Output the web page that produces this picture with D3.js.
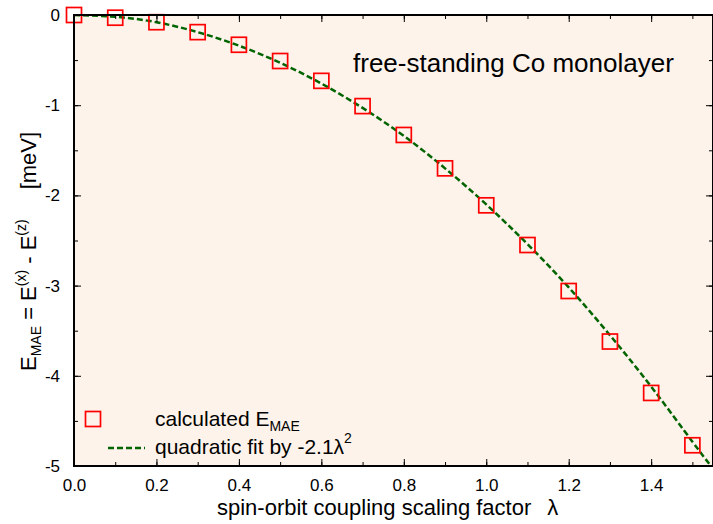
<!DOCTYPE html>
<html>
<head>
<meta charset="utf-8">
<script src="https://cdn.jsdelivr.net/npm/d3@7"></script>
<style>
  body { margin: 0; background: #fff; }
  svg { font-family: "Liberation Sans", Arial, sans-serif; }
</style>
</head>
<body>
<div id="chart"></div>
<script>
// data
var lambdaVals = [0.0, 0.1, 0.2, 0.3, 0.4, 0.5, 0.6, 0.7, 0.8, 0.9, 1.0, 1.1, 1.2, 1.3, 1.4, 1.5];
var maeVals = [0.0, -0.03, -0.08, -0.19, -0.33, -0.51, -0.73, -1.01, -1.33, -1.70, -2.11, -2.55, -3.06, -3.62, -4.19, -4.77];
var fitLambda = [0.0, 0.1, 0.2, 0.3, 0.4, 0.5, 0.6, 0.7, 0.8, 0.9, 1.0, 1.1, 1.2, 1.3, 1.4, 1.5, 1.545];
var fitVals = [0.0, -0.02, -0.08, -0.19, -0.34, -0.53, -0.76, -1.03, -1.34, -1.70, -2.10, -2.54, -3.02, -3.55, -4.12, -4.73, -5.0];
var xTicks = [0.0, 0.2, 0.4, 0.6, 0.8, 1.0, 1.2, 1.4];
var yTicks = [0, -1, -2, -3, -4, -5];

var svgWidth = 713, svgHeight = 524;
var margin = { top: 15, right: 0, bottom: 58, left: 74 };
var width = svgWidth - margin.left - margin.right;
var height = svgHeight - margin.top - margin.bottom;

var svg = d3.select("#chart").append("svg")
  .attr("width", svgWidth)
  .attr("height", svgHeight);

var chartGroup = svg.append("g")
  .attr("transform", `translate(${margin.left}, ${margin.top})`);

var xScale = d3.scaleLinear().domain([0, 1.55]).range([0, width]);
var yScale = d3.scaleLinear().domain([-5, 0]).range([height, 0]);

// plot background
chartGroup.append("rect")
  .attr("width", width)
  .attr("height", height)
  .attr("fill", "#fdf3ea");

chartGroup.append("clipPath").attr("id", "clip")
  .append("rect").attr("width", width).attr("height", height);

// fit curve
var line = d3.line()
  .x((d, i) => xScale(fitLambda[i]))
  .y(d => yScale(d))
  .curve(d3.curveNatural);

chartGroup.append("path")
  .datum(fitVals)
  .attr("clip-path", "url(#clip)")
  .attr("d", line)
  .attr("fill", "none")
  .attr("stroke", "#006400")
  .attr("stroke-width", 2.5)
  .attr("stroke-dasharray", "6,3");

// points
var sq = 15;
chartGroup.selectAll(".pt")
  .data(maeVals)
  .enter()
  .append("rect")
  .attr("class", "pt")
  .attr("x", (d, i) => xScale(lambdaVals[i]) - sq / 2)
  .attr("y", d => yScale(d) - sq / 2)
  .attr("width", sq)
  .attr("height", sq)
  .attr("fill", "none")
  .attr("stroke", "red")
  .attr("stroke-width", 1.7);

// axes (ticks inside, mirrored)
var xMinor = d3.range(0, 16).map(d => d / 10);
var yMinor = d3.range(0, 11).map(d => -d / 2);

function tickStyle(g) {
  g.select(".domain").remove();
  g.selectAll("line").attr("stroke", "#000").attr("stroke-width", 1);
}

chartGroup.append("g")
  .attr("transform", `translate(0, ${height})`)
  .call(d3.axisBottom(xScale).tickValues(xMinor).tickSize(-4).tickFormat(""))
  .call(tickStyle);
chartGroup.append("g")
  .attr("transform", `translate(0, ${height})`)
  .call(d3.axisBottom(xScale).tickValues(xTicks).tickSize(-7).tickPadding(13).tickFormat(d3.format(".1f")))
  .call(tickStyle)
  .selectAll("text").attr("font-size", "17px").attr("fill", "#000");
chartGroup.append("g")
  .call(d3.axisTop(xScale).tickValues(xMinor).tickSize(-4).tickFormat(""))
  .call(tickStyle);
chartGroup.append("g")
  .call(d3.axisTop(xScale).tickValues(xTicks).tickSize(-7).tickFormat(""))
  .call(tickStyle);

chartGroup.append("g")
  .call(d3.axisLeft(yScale).tickValues(yMinor).tickSize(-4).tickFormat(""))
  .call(tickStyle);
chartGroup.append("g")
  .call(d3.axisLeft(yScale).tickValues(yTicks).tickSize(-7).tickPadding(14).tickFormat(d => String(d)))
  .call(tickStyle)
  .selectAll("text").attr("font-size", "17px").attr("fill", "#000");
chartGroup.append("g")
  .attr("transform", `translate(${width}, 0)`)
  .call(d3.axisRight(yScale).tickValues(yMinor).tickSize(-4).tickFormat(""))
  .call(tickStyle);
chartGroup.append("g")
  .attr("transform", `translate(${width}, 0)`)
  .call(d3.axisRight(yScale).tickValues(yTicks).tickSize(-7).tickFormat(""))
  .call(tickStyle);

// frame
chartGroup.append("rect")
  .attr("width", width)
  .attr("height", height)
  .attr("fill", "none")
  .attr("stroke", "#000")
  .attr("stroke-width", 2);

// title inside plot
chartGroup.append("text")
  .attr("x", 279)
  .attr("y", 57)
  .attr("font-size", "26px")
  .text("free-standing Co monolayer");

// x label
var xl = svg.append("text")
  .attr("x", 217)
  .attr("y", 515)
  .attr("font-size", "22px");
xl.append("tspan").text("spin-orbit coupling scaling factor");
xl.append("tspan").attr("dx", 16).text("λ");

// y label
var yl = svg.append("text")
  .attr("transform", "translate(36, 371) rotate(-90)")
  .attr("font-size", "22px");
yl.append("tspan").text("E");
yl.append("tspan").attr("font-size", "14px").attr("dy", 5).text("MAE");
yl.append("tspan").attr("dy", -5).text(" = E");
yl.append("tspan").attr("font-size", "14px").attr("dy", -10).text("(x)");
yl.append("tspan").attr("dy", 10).text(" - E");
yl.append("tspan").attr("font-size", "14px").attr("dy", -10).text("(z)");
yl.append("tspan").attr("dy", 10).attr("dx", 30).text("[meV]");

// legend
var legend = svg.append("g");
legend.append("rect")
  .attr("x", 93 - 7.5).attr("y", 419 - 7.5)
  .attr("width", 15).attr("height", 15)
  .attr("fill", "none").attr("stroke", "red").attr("stroke-width", 1.7);
var l1 = legend.append("text").attr("x", 155).attr("y", 426).attr("font-size", "21px");
l1.append("tspan").text("calculated E");
l1.append("tspan").attr("font-size", "14px").attr("dy", 5).text("MAE");

legend.append("line")
  .attr("x1", 108).attr("x2", 145).attr("y1", 448).attr("y2", 448)
  .attr("stroke", "#006400").attr("stroke-width", 2.5).attr("stroke-dasharray", "6,3");
var l2 = legend.append("text").attr("x", 155).attr("y", 454).attr("font-size", "21px");
l2.append("tspan").text("quadratic fit by -2.1λ");
l2.append("tspan").attr("font-size", "14px").attr("dy", -11).text("2");
</script>
</body>
</html>
